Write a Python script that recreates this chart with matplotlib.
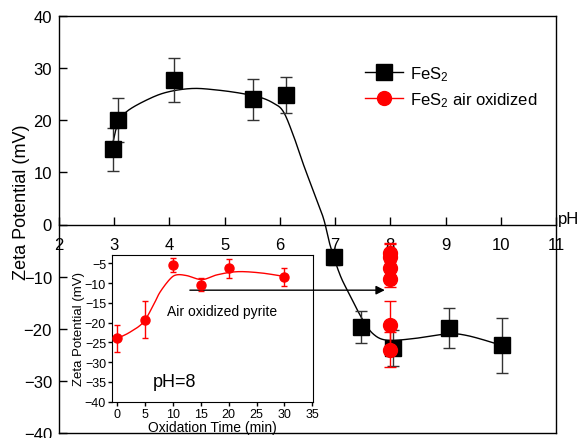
import numpy as np
import matplotlib
matplotlib.use("Agg")
import matplotlib.pyplot as plt

plt.rcParams['font.family'] = ['Liberation Sans', 'DejaVu Sans']
plt.rcParams['mathtext.fontset'] = 'custom'
plt.rcParams['mathtext.rm'] = 'Liberation Sans'
plt.rcParams['mathtext.it'] = 'Liberation Sans:italic'

# ---- main data (FeS2 vs pH) ----
ph = [2.98, 3.07, 4.08, 5.51, 6.11, 6.98, 7.47, 8.04, 9.07, 10.03]
zeta = [14.4, 20.0, 27.7, 24.0, 24.8, -6.3, -19.6, -23.7, -19.8, -23.2]
zeta_err = [4.2, 4.2, 4.2, 3.9, 3.5, 1.5, 3.1, 3.4, 3.8, 5.3]

# fitted curve
fit_ph = [2.98, 3.06, 3.23, 3.65, 4.0, 4.43, 4.86, 5.28, 5.64, 5.88, 6.06, 6.24, 6.43,
          6.61, 6.79, 6.91, 7.09, 7.27, 7.49, 7.69, 7.94, 8.41, 9.03, 9.39, 9.93, 10.03]
fit_zeta = [15.9, 19.1, 21.7, 24.2, 25.5, 26.1, 25.8, 25.2, 24.4, 23.3, 21.7, 17.2, 11.4,
            6.3, 1.15, -4.0, -9.7, -13.6, -18.1, -21.0, -22.2, -21.9, -21.0, -21.3, -22.9, -23.3]

# ---- inset data (air oxidized, pH 8) ----
ox_time = [0, 5, 10, 15, 20, 30]
ox_zeta = [-24.0, -19.3, -5.4, -10.4, -6.2, -8.4]
ox_err = [3.4, 4.7, 1.8, 1.6, 2.4, 2.3]
ox_ph = [8.0] * len(ox_time)

fit_t = [0, 2.28, 4.67, 6.5, 7.66, 9.46, 10.66, 12.5, 15.2, 17.9, 21.5, 25.7, 30]
fit_ox = [-24.0, -22.4, -19.9, -15.5, -12.3, -8.96, -7.9, -8.1, -9.1, -7.9, -7.1, -7.4, -8.3]


def smooth(xs, ys, n=20):
    """Catmull-Rom curve through read points."""
    p = np.column_stack([xs, ys]).astype(float)
    p = np.vstack([2 * p[0] - p[1], p, 2 * p[-1] - p[-2]])
    out = []
    t = np.linspace(0, 1, n, endpoint=False)
    for i in range(1, len(p) - 2):
        p0, p1, p2, p3 = p[i - 1], p[i], p[i + 1], p[i + 2]
        tt = t[:, None]
        seg = 0.5 * ((2 * p1) + (-p0 + p2) * tt + (2 * p0 - 5 * p1 + 4 * p2 - p3) * tt ** 2
                     + (-p0 + 3 * p1 - 3 * p2 + p3) * tt ** 3)
        out.append(seg)
    out.append(p[-2][None, :])
    out = np.vstack(out)
    return out[:, 0], out[:, 1]


fig = plt.figure(figsize=(5.81, 4.39), dpi=100)
ax = fig.add_axes([59 / 581, 5 / 439, 497 / 581, 417 / 439])

cx, cy = smooth(fit_ph, fit_zeta)
ax.plot(cx, cy, color='black', lw=1.0, zorder=2)
ax.errorbar(ph, zeta, yerr=zeta_err, fmt='none', ecolor='#333333', elinewidth=1.0,
            capsize=4, capthick=1.0, zorder=3)
ax.plot(ph, zeta, ls='none', marker='s', ms=11.5, color='black', zorder=4)

ax.errorbar(ox_ph, ox_zeta, yerr=ox_err, fmt='none', ecolor='red', elinewidth=1.0,
            capsize=4, capthick=1.0, zorder=5)
ax.plot(ox_ph, ox_zeta, ls='none', marker='o', ms=10, color='red', zorder=6)

# legend handles
h1, = ax.plot([], [], color='black', lw=1, marker='s', ms=11.5, label='FeS$_2$')
h2, = ax.plot([], [], color='red', lw=1, marker='o', ms=10, label='FeS$_2$ air oxidized')
ax.legend(handles=[h1, h2], loc='upper left', bbox_to_anchor=(0.615, 0.885), frameon=False,
          fontsize=12, handlelength=2.3, handletextpad=0.4, labelspacing=0.45, borderpad=0,
          borderaxespad=0)

ax.set_xlim(2, 11)
ax.set_ylim(-40, 40)
ax.set_xticks(range(2, 12))
ax.set_yticks(range(-40, 41, 10))
ax.spines['bottom'].set_position(('data', 0))
for s in ax.spines.values():
    s.set_linewidth(1.0)
ax.plot([0, 1], [0, 0], transform=ax.transAxes, color='black', lw=1.0, clip_on=False)
ax.tick_params(axis='both', direction='in', length=6, width=1, labelsize=12)
ax.tick_params(axis='x', pad=9)
ax.tick_params(axis='y', pad=5)
ax.set_ylabel('Zeta Potential (mV)', fontsize=13)
ax.yaxis.set_label_coords(-0.058, 0.556)
ax.text(1.004, 0.515, 'pH', transform=ax.transAxes, fontsize=12, ha='left', va='center')

# ---- inset ----
axi = fig.add_axes([112.3 / 581, (439 - 402.7) / 439, 201 / 581, 147 / 439])
axi.set_facecolor('white')
ix, iy = smooth(fit_t, fit_ox)
axi.plot(ix, iy, color='red', lw=1.0, zorder=2)
axi.errorbar(ox_time, ox_zeta, yerr=ox_err, fmt='none', ecolor='red', elinewidth=1.0,
             capsize=2.5, capthick=1.0, zorder=3)
axi.plot(ox_time, ox_zeta, ls='none', marker='o', ms=6.5, color='red', zorder=4)
axi.set_xlim(-0.9, 35.2)
axi.set_ylim(-40, -2.8)
axi.set_xticks(range(0, 36, 5))
axi.set_yticks(range(-40, -4, 5))
axi.tick_params(axis='both', direction='out', length=3, width=1, labelsize=9, pad=1.5)
axi.set_xlabel('Oxidation Time (min)', fontsize=10, labelpad=0)
axi.set_ylabel('Zeta Potential (mV)', fontsize=9.5, labelpad=0)
axi.text(0.2, 0.135, 'pH=8', transform=axi.transAxes, fontsize=13, ha='left', va='center')
axi.text(0.545, 0.615, 'Air oxidized pyrite', transform=axi.transAxes, fontsize=10,
         ha='center', va='center')

axi.annotate('', xy=(7.9, -12.6), xycoords=ax.transData, xytext=(4.37, -12.6),
             textcoords=ax.transData,
             arrowprops=dict(arrowstyle='-|>', color='black', lw=1.0, mutation_scale=13,
                             shrinkA=0, shrinkB=0),
             annotation_clip=False)

fig.savefig('out.png', dpi=100)
